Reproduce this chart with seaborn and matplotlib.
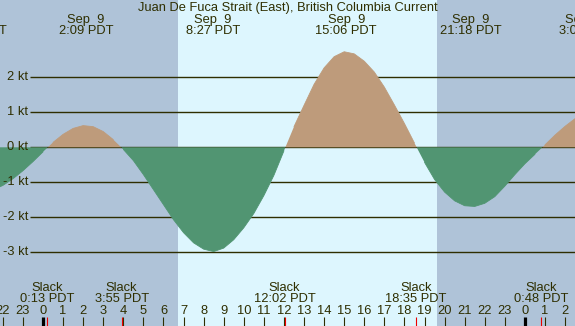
import matplotlib
matplotlib.use("Agg")
import matplotlib.pyplot as plt
import seaborn as sns
import numpy as np

# ---------------- data ----------------
title = "Juan De Fuca Strait (East), British Columbia Current"
hours = [-2.5, -2.0, -1.5, -1.0, -0.5, 0.0, 0.5, 1.0, 1.5, 2.0, 2.5, 3.0, 3.5,
         4.0, 4.5, 5.0, 5.5, 6.0, 6.5, 7.0, 7.5, 8.0, 8.5, 9.0, 9.5, 10.0,
         10.5, 11.0, 11.5, 12.0, 12.5, 13.0, 13.5, 14.0, 14.5, 15.0, 15.5,
         16.0, 16.5, 17.0, 17.5, 18.0, 18.5, 19.0, 19.5, 20.0, 20.5, 21.0,
         21.5, 22.0, 22.5, 23.0, 23.5, 24.0, 24.5, 25.0, 25.5, 26.0, 26.5, 27.0]
knots = [-1.22, -1.09, -0.90, -0.67, -0.41, -0.13, 0.14, 0.37, 0.54, 0.62, 0.59,
         0.45, 0.22, -0.06, -0.38, -0.78, -1.21, -1.64, -2.07, -2.44, -2.73,
         -2.91, -2.98, -2.88, -2.64, -2.30, -1.89, -1.38, -0.80, -0.10, 0.59,
         1.20, 1.80, 2.27, 2.59, 2.73, 2.67, 2.46, 2.15, 1.72, 1.21, 0.68, 0.12,
         -0.43, -0.92, -1.28, -1.53, -1.67, -1.69, -1.60, -1.41, -1.11, -0.78,
         -0.47, -0.20, 0.07, 0.35, 0.60, 0.82, 0.92]

max_times = [-3.33, 2.15, 8.45, 15.10, 21.30, 27.03]
max_labels = ["Sep  8\n20:40 PDT", "Sep  9\n2:09 PDT", "Sep  9\n8:27 PDT",
              "Sep  9\n15:06 PDT", "Sep  9\n21:18 PDT", "Sep 10\n3:02 PDT"]
slack_times = [0.217, 3.917, 12.033, 18.583, 24.8]
slack_labels = ["Slack\n0:13 PDT", "Slack\n3:55 PDT", "Slack\n12:02 PDT",
                "Slack\n18:35 PDT", "Slack\n0:48 PDT"]
hour_ticks = list(range(-2, 27))
hour_labels = [str(h % 24) for h in hour_ticks]
kt_levels = [-3, -2, -1, 0, 1, 2]
kt_labels = [f"{k} kt" for k in kt_levels]
sunrise, sunset = 6.72, 19.64

# ---------------- styling ----------------
night = "#afc3d8"
day = "#ddf6fe"
flood = "#be9b7b"
ebb = "#519572"
ink = "#2e2e00"

sns.set_style("white")
plt.rcParams['font.family'] = ['Liberation Sans', 'DejaVu Sans']
fs = 9.3

W, H = 575, 326
fig = plt.figure(figsize=(W / 100, H / 100), dpi=100)
ax = fig.add_axes([0, 0, 1, 1])
x0px, pxh = 43.0, 20.08
y0px, pxk = 147.3, 35.0
ax.set_xlim(-x0px / pxh, (W - x0px) / pxh)
ax.set_ylim((y0px - H) / pxk, y0px / pxk)
ax.axis('off')
fig.patch.set_facecolor(night)

def yfrac(ypx):
    return 1 - ypx / H

tr = ax.get_xaxis_transform()

# day / night
ax.axvspan(ax.get_xlim()[0], sunrise, color=night, zorder=0, lw=0)
ax.axvspan(sunrise, sunset, color=day, zorder=0, lw=0)
ax.axvspan(sunset, ax.get_xlim()[1], color=night, zorder=0, lw=0)

# grid lines
xg0 = (30 - x0px) / pxh
ax.hlines(kt_levels, xg0, ax.get_xlim()[1], color=ink, lw=1.0, zorder=1)
for k, lab in zip(kt_levels, kt_labels):
    ax.text((28.5 - x0px) / pxh, k, lab, ha='right', va='center',
            fontsize=fs, color=ink, zorder=5)

# current fill
h = np.array(hours)
v = np.array(knots)
ax.fill_between(h, v, 0, where=v >= 0, interpolate=True, color=flood, lw=0, zorder=2)
ax.fill_between(h, v, 0, where=v <= 0, interpolate=True, color=ebb, lw=0, zorder=2)

# smooth the fill edges with thin outlines, one contiguous run at a time
sign = np.sign(v)
start = 0
for i in range(1, len(v) + 1):
    if i == len(v) or sign[i] != sign[start]:
        seg_h, seg_v = h[start:i], v[start:i]
        if len(seg_h) > 1:
            sns.lineplot(x=seg_h, y=seg_v, color=flood if sign[start] > 0 else ebb,
                         lw=0.6, ax=ax, zorder=3, legend=False)
        start = i
ax.set_xlim(-x0px / pxh, (W - x0px) / pxh)
ax.set_ylim((y0px - H) / pxk, y0px / pxk)
ax.axis('off')

# title
ax.text(0.5, yfrac(7.5), title, transform=ax.transAxes, ha='center', va='center',
        fontsize=fs, color=ink, zorder=6)

# max labels at top
for t, lab in zip(max_times, max_labels):
    l1, l2 = lab.split("\n")
    ax.text(t, yfrac(19.5), l1, transform=tr, ha='center', va='center',
            fontsize=fs, color=ink, zorder=6)
    ax.text(t, yfrac(31.5), l2, transform=tr, ha='center', va='center',
            fontsize=fs, color=ink, zorder=6)

# slack labels at bottom
for t, lab in zip(slack_times, slack_labels):
    l1, l2 = lab.split("\n")
    ax.text(t, yfrac(287.8), l1, transform=tr, ha='center', va='center',
            fontsize=fs, color=ink, zorder=6)
    ax.text(t, yfrac(299.5), l2, transform=tr, ha='center', va='center',
            fontsize=fs, color=ink, zorder=6)

# hour labels and ticks
for t, lab in zip(hour_ticks, hour_labels):
    ax.text(t, yfrac(311.5), lab, transform=tr, ha='center', va='center',
            fontsize=fs, color=ink, zorder=6)
    if t % 24 == 0:
        ax.vlines(t, 0, yfrac(316.5), transform=tr, color='black', lw=2.3, zorder=6)
    else:
        ax.vlines(t, 0, yfrac(316.5), transform=tr, color=ink, lw=0.8, zorder=6)
for t in slack_times:
    ax.vlines(t, 0, yfrac(316.5), transform=tr, color='#ee0000', lw=0.8, zorder=7)

fig.savefig("out.png", dpi=100, facecolor=night)
